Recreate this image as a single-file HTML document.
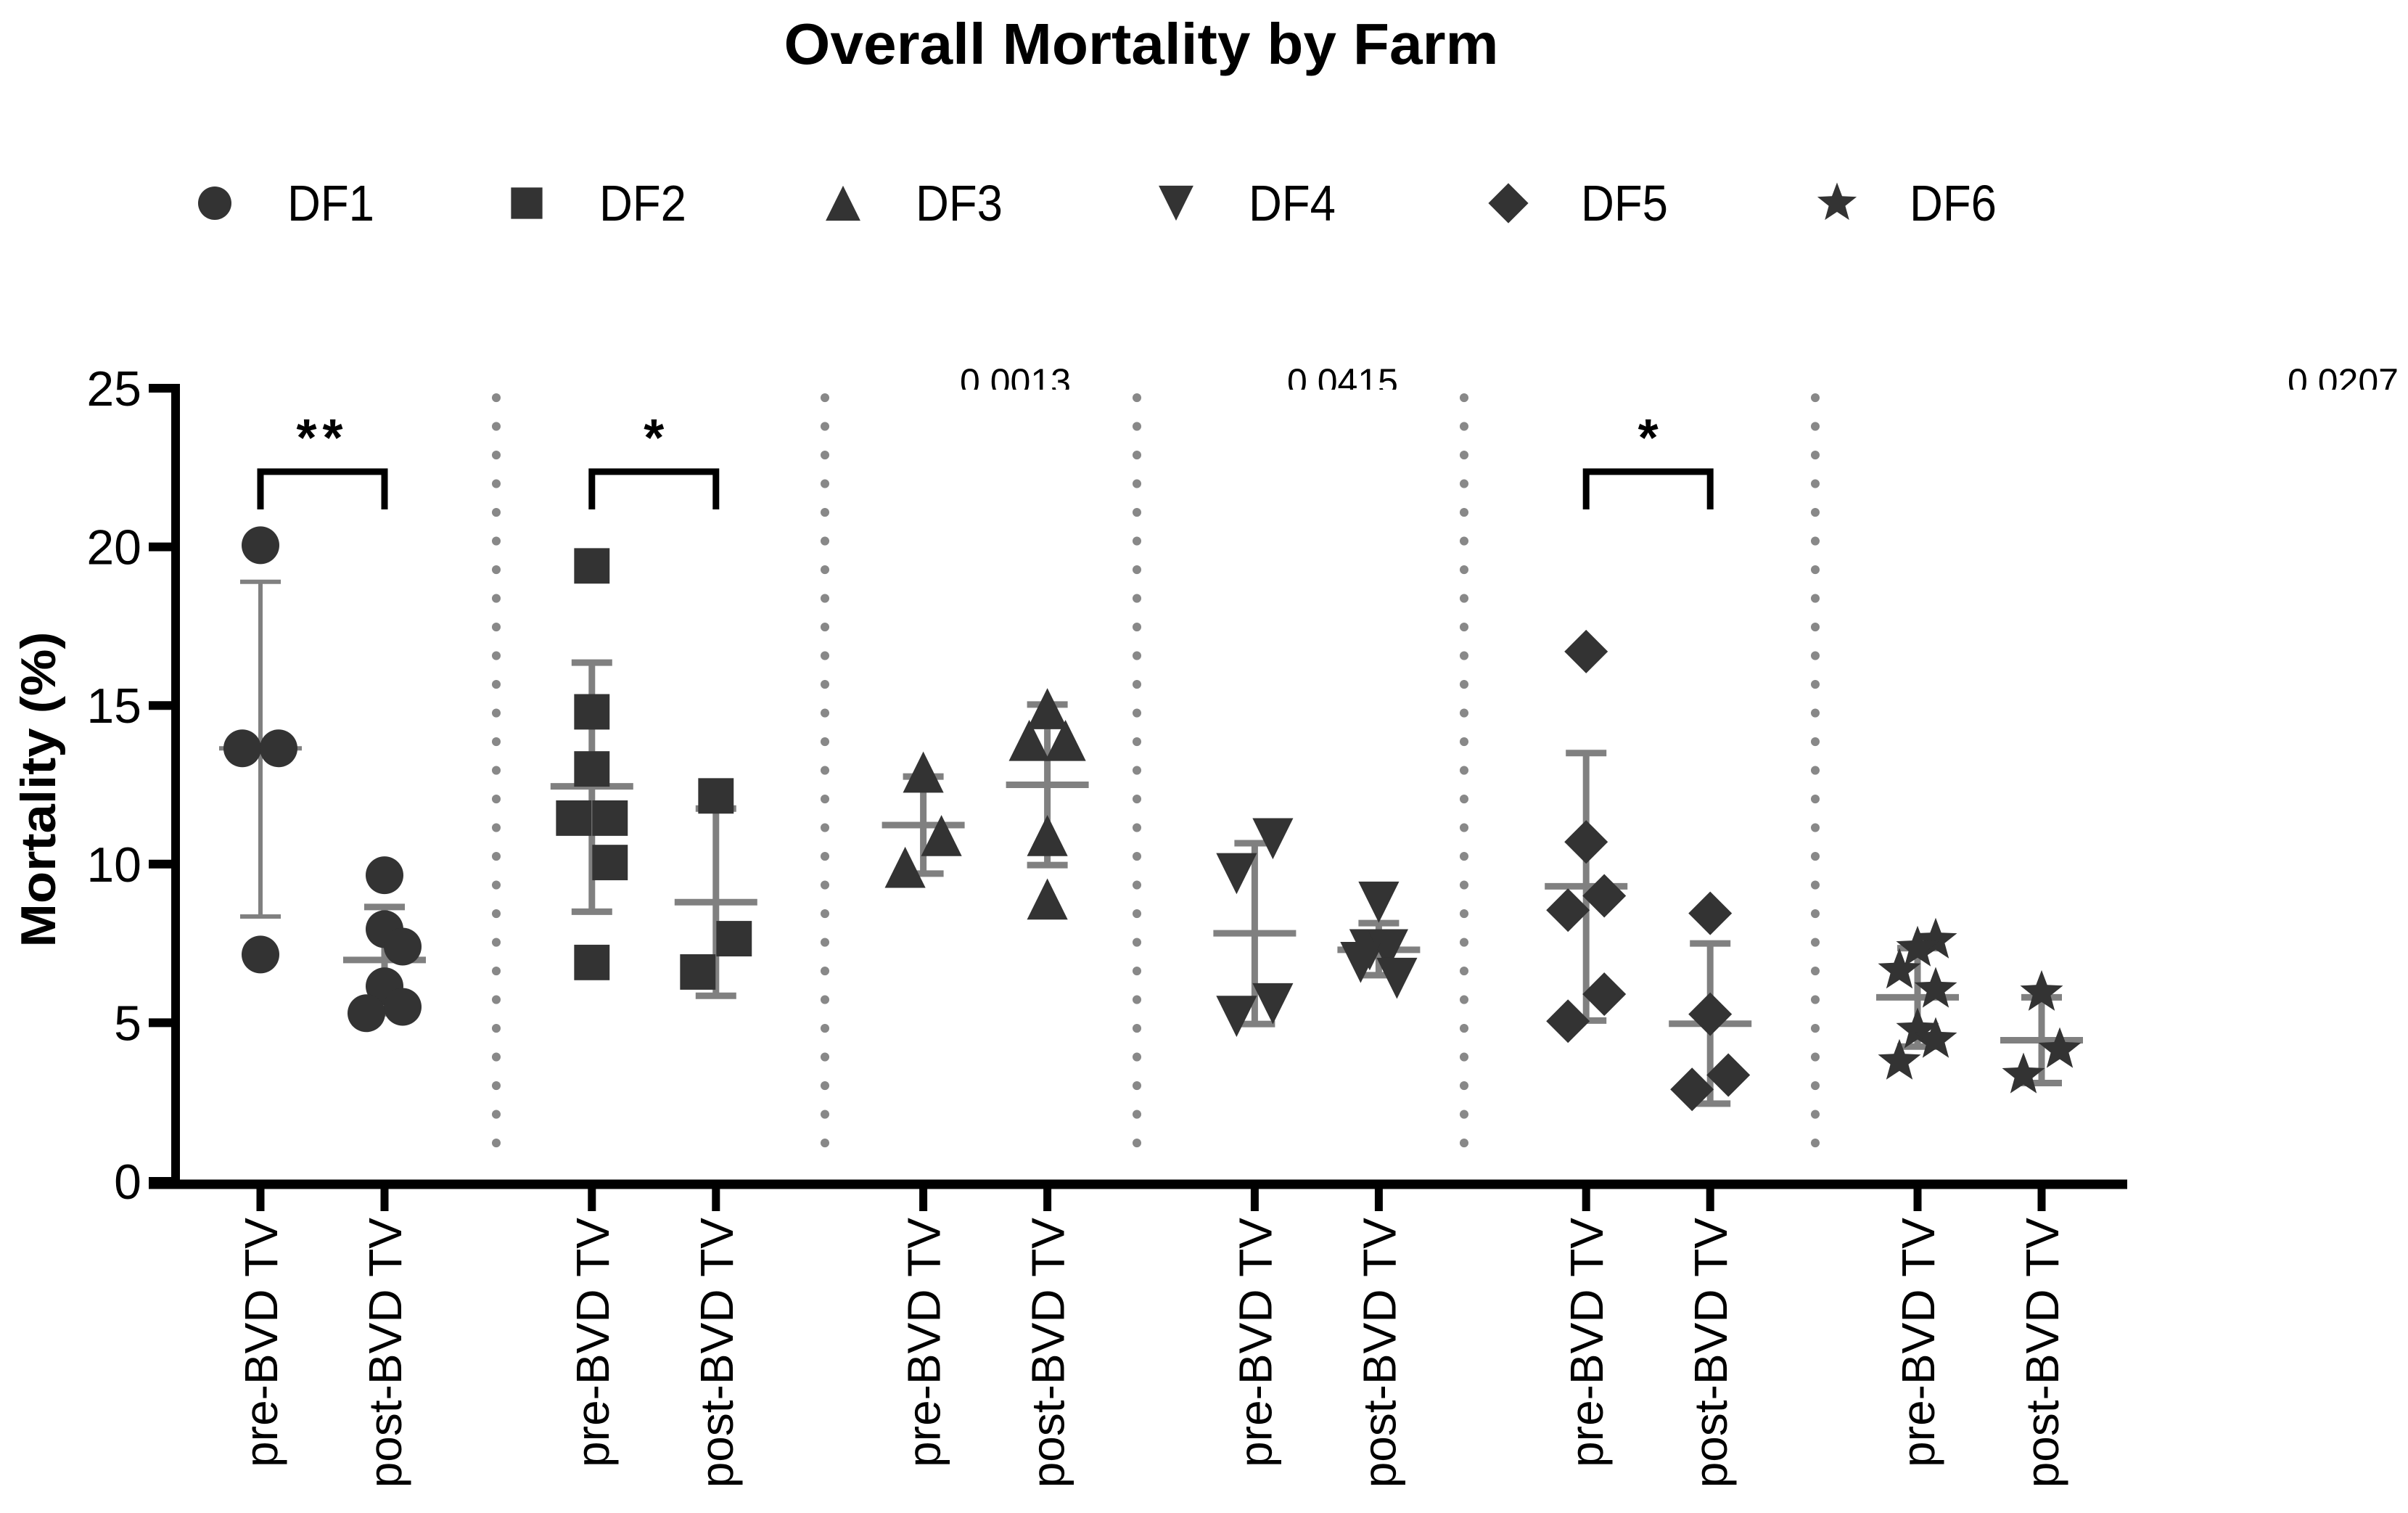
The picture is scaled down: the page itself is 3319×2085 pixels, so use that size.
<!DOCTYPE html>
<html><head><meta charset="utf-8"><style>
html,body{margin:0;padding:0;background:#fff;}
svg{display:block;font-family:"Liberation Sans",Arial,sans-serif;}
</style></head><body>
<svg id="chart" width="3319" height="2085" viewBox="0 0 3319 2085" xmlns="http://www.w3.org/2000/svg">
<text x="1573" y="88" font-size="80" font-weight="bold" text-anchor="middle" textLength="985" lengthAdjust="spacingAndGlyphs">Overall Mortality by Farm</text>
<g id="legend"></g>
<g id="seps"></g>
<g id="bars"></g>
<g id="pts"></g>
<g id="axes"></g>
<g id="annot"></g>
<text transform="translate(76,1088) rotate(-90)" font-size="68" font-weight="bold" text-anchor="middle" textLength="435" lengthAdjust="spacingAndGlyphs">Mortality (%)</text>
</svg>
<script>
const farms = ["DF1","DF2","DF3","DF4","DF5","DF6"];
const groups = ["pre-BVD TV","post-BVD TV"];
const yTicks = [0,5,10,15,20,25];
const df1Pre = [20.05,13.65,13.65,7.15];
const df1Post = [9.65,7.95,7.4,6.15,5.5,5.3];
const df2Pre = [19.4,14.8,13.0,11.45,11.45,10.05,6.9];
const df2Post = [12.15,7.65,6.6];
const df3Pre = [12.9,10.9,9.9];
const df3Post = [14.9,13.9,13.9,10.9,8.9];
const df4Pre = [10.8,9.7,5.6,5.2];
const df4Post = [8.8,7.3,7.3,6.9,6.4];
const df5Pre = [16.7,10.7,9.0,8.55,5.9,5.05];
const df5Post = [8.45,5.27,3.35,2.9];
const df6Pre = [7.6,7.35,6.65,6.05,4.77,4.47,3.78];
const df6Post = [5.95,4.15,3.35];
const df1PreJ=[0,-1,1,0], df1PostJ=[0,0,1,0,1,-1];
const df2PreJ=[0,0,0,-1,1,1,0], df2PostJ=[0,1,-1];
const df3PreJ=[0,1,-1], df3PostJ=[0,-1,1,0,0];
const df4PreJ=[1,-1,1,-1], df4PostJ=[0,-0.5,0.5,-1,1];
const df5PreJ=[0,0,1,-1,1,-1], df5PostJ=[0,0,1,-1];
const df6PreJ=[1,0,-1,1,0,1,-1], df6PostJ=[0,1,-1];
const means = [[13.65,6.98],[12.45,8.8],[11.23,12.5],[7.82,7.3],[9.3,4.97],[5.8,4.45]];
const sdLow = [[8.35,5.3],[8.5,5.85],[9.7,9.97],[4.96,6.5],[5.07,2.45],[4.25,3.1]];
const sdHigh = [[18.9,8.65],[16.35,11.75],[12.76,15.03],[10.66,8.14],[13.5,7.5],[7.35,5.8]];
const sigLabels = ["**","*","","","*",""];
const pValues = ["","","0.0013","0.0415","","0.0207"];

const series=[[df1Pre,df1Post],[df2Pre,df2Post],[df3Pre,df3Post],[df4Pre,df4Post],[df5Pre,df5Post],[df6Pre,df6Post]];
const jit=[[df1PreJ,df1PostJ],[df2PreJ,df2PostJ],[df3PreJ,df3PostJ],[df4PreJ,df4PostJ],[df5PreJ,df5PostJ],[df6PreJ,df6PostJ]];
const NS="http://www.w3.org/2000/svg";
const Y0=1628, Y25=535;
function y(v){return Y0-(v/25)*(Y0-Y25);}
function x(f,g){return 359+f*456.8+g*171;}
function mk(tag,attrs,parent){const e=document.createElementNS(NS,tag);for(const k in attrs)e.setAttribute(k,attrs[k]);parent.appendChild(e);return e;}
function marker(type,cx,cy,s,parent){
  let e;
  if(type===0){e=mk('circle',{cx:cx,cy:cy,r:s*0.5,fill:'#333'},parent);}
  else if(type===1){e=mk('rect',{x:cx-s*0.47,y:cy-s*0.47,width:s*0.94,height:s*0.94,fill:'#333'},parent);}
  else if(type===2){const h=s*1.05;e=mk('polygon',{points:`${cx},${cy-h/2} ${cx+s*0.52},${cy+h/2} ${cx-s*0.52},${cy+h/2}`,fill:'#333'},parent);}
  else if(type===3){const h=s*1.05;e=mk('polygon',{points:`${cx},${cy+h/2} ${cx+s*0.52},${cy-h/2} ${cx-s*0.52},${cy-h/2}`,fill:'#333'},parent);}
  else if(type===4){const r=s*0.6;e=mk('polygon',{points:`${cx},${cy-r} ${cx+r},${cy} ${cx},${cy+r} ${cx-r},${cy}`,fill:'#333'},parent);}
  else {let p=[];const R=s*0.62,r=R*0.42;for(let i=0;i<10;i++){const a=-Math.PI/2+i*Math.PI/5;const rr=i%2?r:R;p.push((cx+rr*Math.cos(a)).toFixed(1)+','+(cy+rr*Math.sin(a)).toFixed(1));}e=mk('polygon',{points:p.join(' '),fill:'#333'},parent);}
  return e;
}
const legend=document.getElementById('legend');
const legX=[296,726,1162,1621,2079,2532];
farms.forEach((f,i)=>{
  const g=mk('g',{},legend);
  
  
  marker(i,legX[i],280,46,g);
  const t=mk('text',{x:legX[i]+100,y:304,'font-size':70,textLength:120,lengthAdjust:'spacingAndGlyphs'},g);
  t.textContent=f;
});
const seps=document.getElementById('seps');
const sepX=[684,1137,1567,2018,2502];
sepX.forEach((sx,s)=>{
  const l=mk('line',{x1:sx,y1:548,x2:sx,y2:1612,stroke:'#888','stroke-width':12,'stroke-linecap':'round','stroke-dasharray':'0.1 39.4'},seps);
  
  
});
const bars=document.getElementById('bars');
const pts=document.getElementById('pts');
for(let f=0;f<6;f++)for(let g=0;g<2;g++){
  const cx=x(f,g);const sw=(f===0&&g===0)?6:9;
  const eb=mk('g',{stroke:'#808080','stroke-width':sw,fill:'none'},bars);
  
  
  mk('line',{x1:cx,y1:y(sdLow[f][g]),x2:cx,y2:y(sdHigh[f][g])},eb);
  mk('line',{x1:cx-28,y1:y(sdLow[f][g]),x2:cx+28,y2:y(sdLow[f][g])},eb);
  mk('line',{x1:cx-28,y1:y(sdHigh[f][g]),x2:cx+28,y2:y(sdHigh[f][g])},eb);
  mk('line',{x1:cx-57,y1:y(means[f][g]),x2:cx+57,y2:y(means[f][g])},eb);
  series[f][g].forEach((v,i)=>{
    const m=marker(f,cx+jit[f][g][i]*25,y(v),f===0?52:(f===1?52:(f===4?50:(f===5?50:54))),pts);
    
    
  });
}
const axes=document.getElementById('axes');
mk('line',{x1:242,y1:529,x2:242,y2:1638,stroke:'#000','stroke-width':12},axes);
mk('line',{x1:205,y1:1632,x2:2932,y2:1632,stroke:'#000','stroke-width':13},axes);
yTicks.forEach(t=>{
  const yy=y(t);
  mk('line',{x1:205,y1:yy,x2:242,y2:yy,stroke:'#000','stroke-width':12},axes);
  const tx=mk('text',{x:195,y:yy+24,'font-size':68,'text-anchor':'end'},axes);
  
  
  tx.textContent=t;
});
for(let f=0;f<6;f++)for(let g=0;g<2;g++){
  const cx=x(f,g);
  mk('line',{x1:cx,y1:1632,x2:cx,y2:1669,stroke:'#000','stroke-width':11},axes);
  const tx=mk('text',{transform:`translate(${cx+23},1678) rotate(-90)`,'font-size':64,'text-anchor':'end'},axes);
  
  
  tx.textContent=groups[g];
}
const annot=document.getElementById('annot');
mk('clipPath',{id:'pclip'},annot);
mk('rect',{x:0,y:0,width:3319,height:537},document.getElementById('pclip'));
sigLabels.forEach((s,f)=>{
  if(!s)return;
  const a=x(f,0),b=x(f,1);
  const br=mk('polyline',{points:`${a},702 ${a},650 ${b},650 ${b},702`,fill:'none',stroke:'#000','stroke-width':9},annot);
  
  
  const t=mk('text',{x:(a+b)/2,y:628,'font-size':72,'font-weight':'bold','text-anchor':'middle','letter-spacing':s.length>1?8:0},annot);
  
  
  t.textContent=s;
});
const pX=[0,0,1323,1774,0,3153];
pValues.forEach((p,f)=>{
  if(!p)return;
  const t=mk('text',{x:pX[f],y:543,'font-size':50,'clip-path':'url(#pclip)'},annot);
  
  
  t.textContent=p;
});
</script>
</body></html>
